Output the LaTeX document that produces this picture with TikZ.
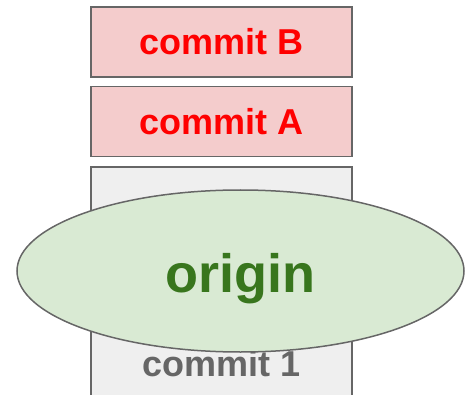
\documentclass[tikz,border=0pt]{standalone}
\usepackage{fontspec}
\setmainfont{Liberation Sans}
\usetikzlibrary{shapes.geometric}
\definecolor{framegray}{HTML}{666666}
\definecolor{newpink}{HTML}{F4CCCC}
\definecolor{newred}{HTML}{FF0000}
\definecolor{oldgray}{HTML}{EFEFEF}
\definecolor{origingreen}{HTML}{D9EAD3}
\definecolor{origindark}{HTML}{38761D}

\begin{document}
\begin{tikzpicture}[x=1pt, y=-1pt,
    commitbox/.style={draw=framegray, line width=1.5pt, minimum width=261pt,
                      minimum height=70pt, inner sep=0pt},
    commitlabel/.style={font=\fontsize{36}{36}\selectfont\bfseries}]
    \useasboundingbox (0,0) rectangle (465,395);
    \clip (0,0) rectangle (465,395);

    % new commits on top
    \node[commitbox, commitlabel, fill=newpink, text=newred] (commitB) at (221.5,42) {commit B};
    \node[commitbox, commitlabel, fill=newpink, text=newred] (commitA) at (221.5,121.5) {commit A};

    % old history, partly hidden
    \node[commitbox, fill=oldgray, minimum height=253pt] (history) at (221.5,293.5) {};
    \node[commitlabel, text=framegray] (commit2) at (221.5,204.5) {commit 2};
    \node[commitlabel, text=framegray] (commit1) at (221.5,364) {commit 1};

    % remote
    \node[ellipse, draw=framegray, line width=1.5pt, fill=origingreen,
          minimum width=447pt, minimum height=162pt, inner sep=0pt,
          text height=42pt, text depth=0pt,
          text=origindark, font=\fontsize{54}{54}\selectfont\bfseries]
        (origin) at (240.5,271) {origin};
\end{tikzpicture}
\end{document}
